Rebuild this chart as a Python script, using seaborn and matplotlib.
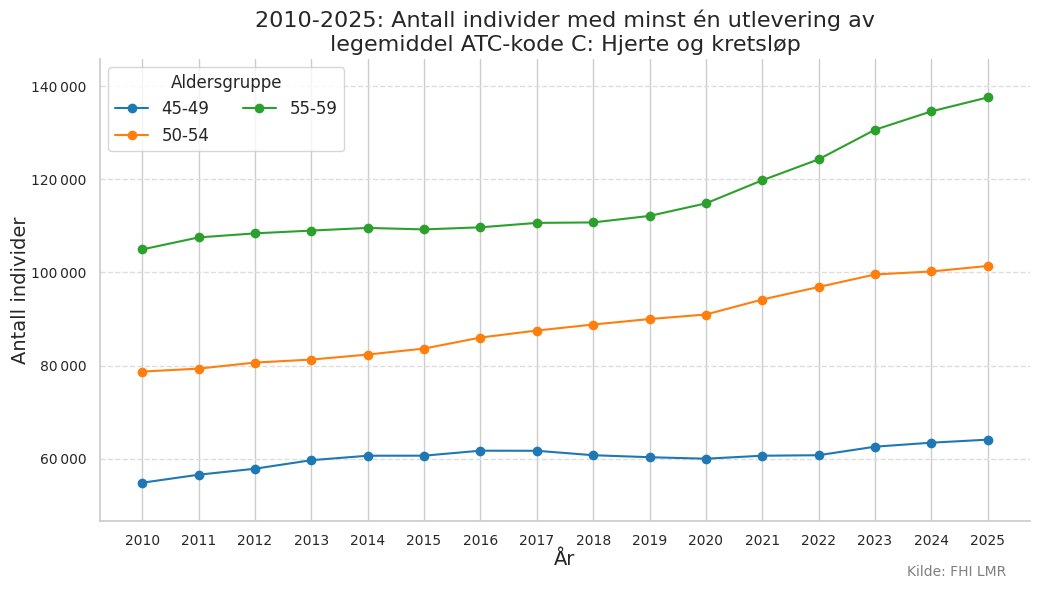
import pandas as pd
import matplotlib.pyplot as plt
import matplotlib.ticker as mticker
import seaborn as sns

years = list(range(2010, 2026))
groups = ["45-49", "50-54", "55-59"]
vals_45_49 = [54840, 56560, 57850, 59680, 60640, 60650, 61720, 61700, 60750, 60320,
              60000, 60640, 60750, 62580, 63440, 64090]
vals_50_54 = [78710, 79350, 80650, 81290, 82370, 83660, 86020, 87530, 88820, 90000,
              90970, 94190, 96880, 99570, 100215, 101400]
vals_55_59 = [104950, 107530, 108400, 109000, 109570, 109250, 109700, 110650, 110750, 112150,
              114840, 119800, 124300, 130650, 134600, 137600]

df = pd.DataFrame({
    "År": years * 3,
    "Antall": vals_45_49 + vals_50_54 + vals_55_59,
    "Aldersgruppe": [g for g in groups for _ in years],
})

sns.set_theme(style="whitegrid")
fig, ax = plt.subplots(figsize=(10.39, 5.91), dpi=100)
fig.subplots_adjust(left=0.0962, right=0.9913, top=0.9002, bottom=0.1184)

sns.lineplot(data=df, x="År", y="Antall", hue="Aldersgruppe", marker="o",
             markersize=7, markeredgewidth=0, linewidth=1.5,
             palette=["#1f77b4", "#ff7f0e", "#2ca02c"], ax=ax)

ax.set_title("2010-2025: Antall individer med minst én utlevering av\nlegemiddel ATC-kode C: Hjerte og kretsløp",
             fontsize=16)
ax.set_xlabel("År", fontsize=14, labelpad=2)
ax.set_ylabel("Antall individer", fontsize=14, labelpad=1)
ax.set_xticks(years)
ax.tick_params(labelsize=10)
ax.tick_params(axis="x", pad=3)
ax.yaxis.set_major_formatter(mticker.FuncFormatter(lambda v, p: f"{v:,.0f}".replace(",", "\u2009")))
ax.set_ylim(min(vals_45_49) * 0.85, max(vals_55_59) * 1.06)

ax.xaxis.grid(True, linestyle="-", color="#cccccc")
ax.yaxis.grid(True, linestyle="--", color="#dddddd")
sns.despine(ax=ax)

ax.legend(title="Aldersgruppe", ncol=2, loc="upper left", fontsize=12, title_fontsize=12)

fig.text(0.968, 0.025, "Kilde: FHI LMR", ha="right", fontsize=10, color="gray")
fig.savefig("out.png", dpi=100)
